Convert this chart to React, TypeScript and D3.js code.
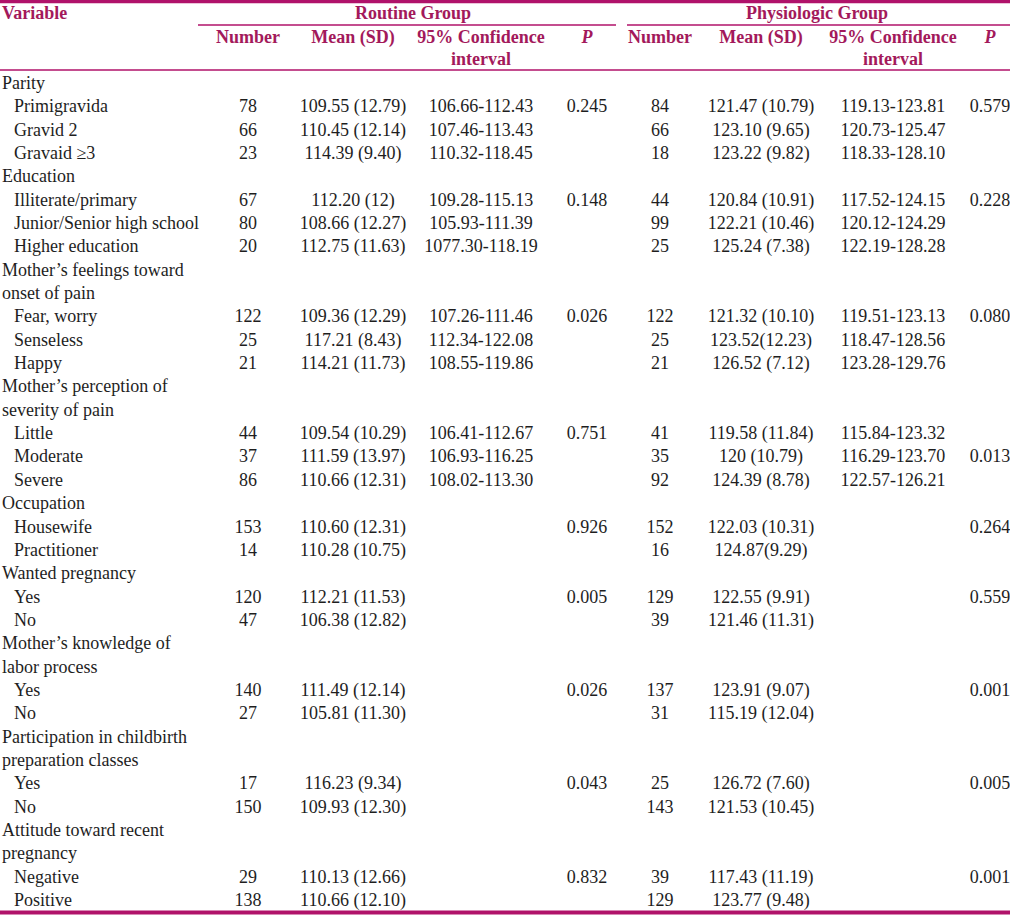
import * as d3 from 'd3';
import React from 'react';

// variable groups (multi-line titles) and their levels
const groupTitles = [
  ['Parity'],
  ['Education'],
  ['Mother’s feelings toward', 'onset of pain'],
  ['Mother’s perception of', 'severity of pain'],
  ['Occupation'],
  ['Wanted pregnancy'],
  ['Mother’s knowledge of', 'labor process'],
  ['Participation in childbirth', 'preparation classes'],
  ['Attitude toward recent', 'pregnancy'],
];
const groupSizes = [3, 3, 3, 3, 2, 2, 2, 2, 2];
const levels = [
  'Primigravida', 'Gravid 2', 'Gravaid ≥3',
  'Illiterate/primary', 'Junior/Senior high school', 'Higher education',
  'Fear, worry', 'Senseless', 'Happy',
  'Little', 'Moderate', 'Severe',
  'Housewife', 'Practitioner',
  'Yes', 'No',
  'Yes', 'No',
  'Yes', 'No',
  'Negative', 'Positive',
];

const routineN = [78, 66, 23, 67, 80, 20, 122, 25, 21, 44, 37, 86, 153, 14, 120, 47, 140, 27, 17, 150, 29, 138];
const routineMean = [
  '109.55 (12.79)', '110.45 (12.14)', '114.39 (9.40)',
  '112.20 (12)', '108.66 (12.27)', '112.75 (11.63)',
  '109.36 (12.29)', '117.21 (8.43)', '114.21 (11.73)',
  '109.54 (10.29)', '111.59 (13.97)', '110.66 (12.31)',
  '110.60 (12.31)', '110.28 (10.75)',
  '112.21 (11.53)', '106.38 (12.82)',
  '111.49 (12.14)', '105.81 (11.30)',
  '116.23 (9.34)', '109.93 (12.30)',
  '110.13 (12.66)', '110.66 (12.10)',
];
const routineCI = [
  '106.66-112.43', '107.46-113.43', '110.32-118.45',
  '109.28-115.13', '105.93-111.39', '1077.30-118.19',
  '107.26-111.46', '112.34-122.08', '108.55-119.86',
  '106.41-112.67', '106.93-116.25', '108.02-113.30',
  '', '', '', '', '', '', '', '', '', '',
];
const routineP = [
  '0.245', '', '', '0.148', '', '', '0.026', '', '', '0.751', '', '',
  '0.926', '', '0.005', '', '0.026', '', '0.043', '', '0.832', '',
];

const physN = [84, 66, 18, 44, 99, 25, 122, 25, 21, 41, 35, 92, 152, 16, 129, 39, 137, 31, 25, 143, 39, 129];
const physMean = [
  '121.47 (10.79)', '123.10 (9.65)', '123.22 (9.82)',
  '120.84 (10.91)', '122.21 (10.46)', '125.24 (7.38)',
  '121.32 (10.10)', '123.52(12.23)', '126.52 (7.12)',
  '119.58 (11.84)', '120 (10.79)', '124.39 (8.78)',
  '122.03 (10.31)', '124.87(9.29)',
  '122.55 (9.91)', '121.46 (11.31)',
  '123.91 (9.07)', '115.19 (12.04)',
  '126.72 (7.60)', '121.53 (10.45)',
  '117.43 (11.19)', '123.77 (9.48)',
];
const physCI = [
  '119.13-123.81', '120.73-125.47', '118.33-128.10',
  '117.52-124.15', '120.12-124.29', '122.19-128.28',
  '119.51-123.13', '118.47-128.56', '123.28-129.76',
  '115.84-123.32', '116.29-123.70', '122.57-126.21',
  '', '', '', '', '', '', '', '', '', '',
];
const physP = [
  '0.579', '', '', '0.228', '', '', '0.080', '', '', '', '0.013', '',
  '0.264', '', '0.559', '', '0.001', '', '0.005', '', '0.001', '',
];

const colKeys = ['rN', 'rMean', 'rCI', 'rP', 'pN', 'pMean', 'pCI', 'pP'];
const colHeads = ['Number', 'Mean (SD)', '95% Confidence', 'P', 'Number', 'Mean (SD)', '95% Confidence', 'P'];

const W = 1010;
const H = 915;
const ink = '#1e1e1e';
const accent = '#a3195b';
const rule = '#b0126a';
const font = '"Liberation Serif", "Times New Roman", serif';

export default function App() {
  // build the flat list of text lines
  type Line = { label: string; indent: boolean; level: number };
  const lines: Line[] = [];
  let li = 0;
  groupTitles.forEach((t, g) => {
    t.forEach((s) => lines.push({ label: s, indent: false, level: -1 }));
    for (let k = 0; k < groupSizes[g]; k++) {
      lines.push({ label: levels[li], indent: true, level: li });
      li++;
    }
  });

  const y = d3.scaleLinear().domain([0, lines.length - 1]).range([89, 906]);
  const x = d3.scaleOrdinal<string, number>()
    .domain(colKeys)
    .range([248, 353, 481, 587, 660, 761, 893, 990]);

  const cols: Record<string, (string | number)[]> = {
    rN: routineN, rMean: routineMean, rCI: routineCI, rP: routineP,
    pN: physN, pMean: physMean, pCI: physCI, pP: physP,
  };

  return (
    <svg width={W} height={H} style={{ position: 'absolute', left: 0, top: 0, background: '#fff' }}
      fontFamily={font} fontSize={18}>
      <rect x={0} y={0} width={W} height={H} fill="#fff" />
      <line x1={0} x2={W} y1={1.5} y2={1.5} stroke={rule} strokeWidth={3.5} />
      <text x={2} y={19} fontWeight="bold" fill={accent}>Variable</text>
      <text x={413} y={19} fontWeight="bold" fill={accent} textAnchor="middle">Routine Group</text>
      <text x={817} y={19} fontWeight="bold" fill={accent} textAnchor="middle">Physiologic Group</text>
      <line x1={198} x2={616} y1={25} y2={25} stroke={rule} strokeWidth={1.5} />
      <line x1={627} x2={W} y1={25} y2={25} stroke={rule} strokeWidth={1.5} />
      {colKeys.map((k, i) => (
        <text key={k} x={x(k)} y={43} fontWeight="bold" fill={accent} textAnchor="middle"
          fontStyle={colHeads[i] === 'P' ? 'italic' : 'normal'}>{colHeads[i]}</text>
      ))}
      {['rCI', 'pCI'].map((k) => (
        <text key={k} x={x(k)} y={65} fontWeight="bold" fill={accent} textAnchor="middle">interval</text>
      ))}
      <line x1={0} x2={W} y1={70} y2={70} stroke={rule} strokeWidth={1.5} />
      {lines.map((l, i) => (
        <g key={i}>
          <text x={l.indent ? 14 : 2} y={y(i)} fill={ink}>{l.label}</text>
          {l.level >= 0 && colKeys.map((k) => (
            <text key={k} x={x(k)} y={y(i)} fill={ink} textAnchor="middle">{cols[k][l.level]}</text>
          ))}
        </g>
      ))}
      <line x1={0} x2={W} y1={912.5} y2={912.5} stroke={rule} strokeWidth={4} />
    </svg>
  );
}
